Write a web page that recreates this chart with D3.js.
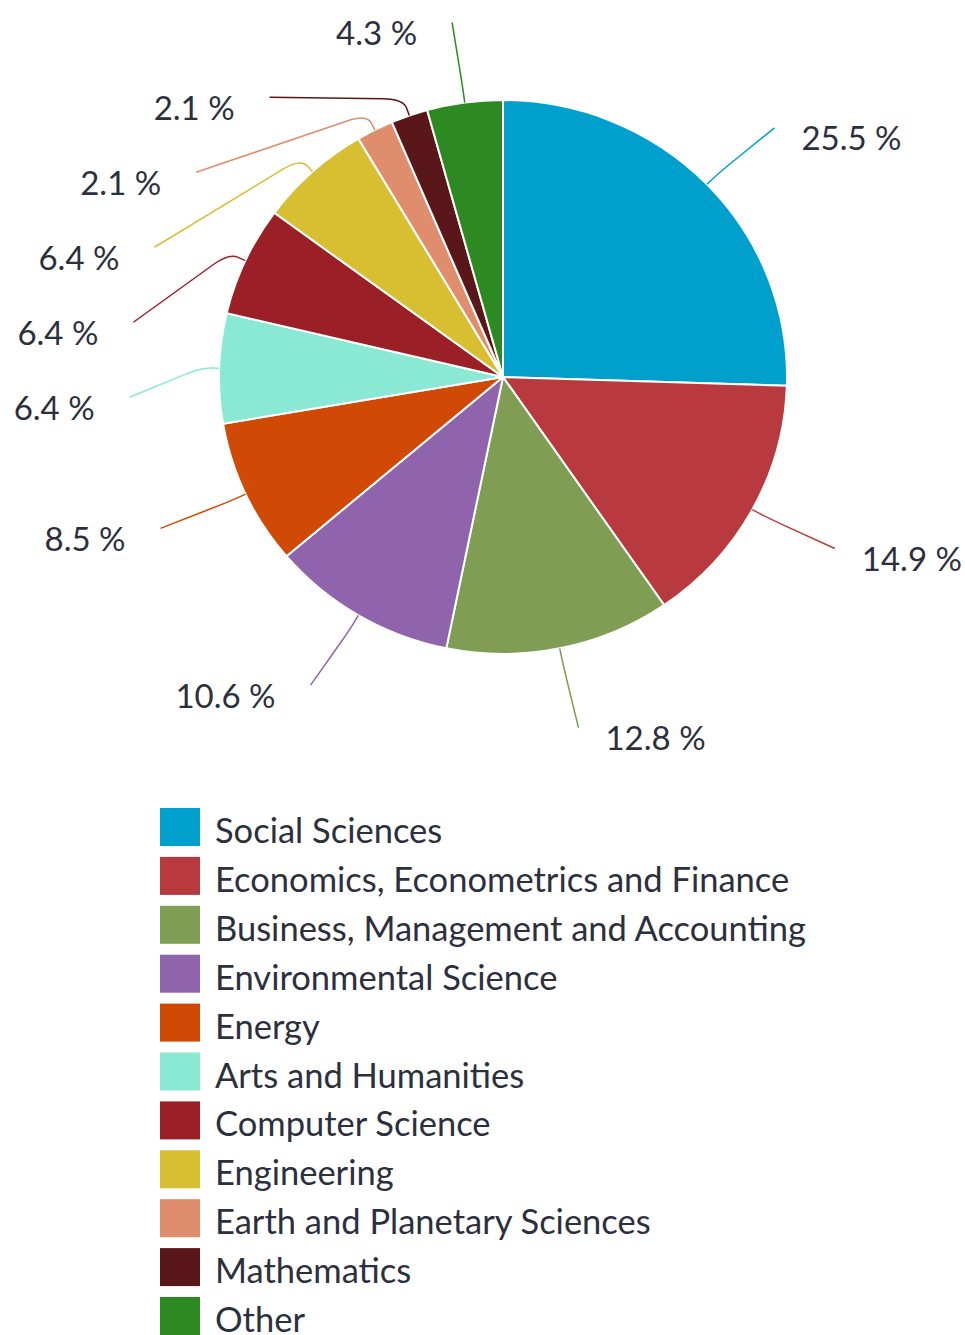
<!DOCTYPE html>
<html><head><meta charset="utf-8">
<script src="https://cdn.jsdelivr.net/npm/d3@7"></script>
<style>body{margin:0;background:#fff}svg{display:block}</style>
</head><body><svg id="c" width="965" height="1335"></svg>
<script>
const categories = ["Social Sciences","Economics, Econometrics and Finance","Business, Management and Accounting","Environmental Science","Energy","Arts and Humanities","Computer Science","Engineering","Earth and Planetary Sciences","Mathematics","Other"];
const values = [25.5,14.9,12.8,10.6,8.5,6.4,6.4,6.4,2.1,2.1,4.3];
const colors = ["#00a0cd","#b83a3f","#7f9e53","#9063ad","#d04a05","#89e9d3","#9b1f27","#d8bf32","#e08d6d","#5a1719","#2d8a22"];
const pctLabels = values.map(v => v.toFixed(1) + " %");

const svg = d3.select("#c");
const cx = 503, cy = 377, R = 284, sy = 0.975;
const font = "Lato, 'Open Sans', sans-serif";
const textColor = "#2c303c";

const pie = d3.pie().sort(null).value(d => d);
const arcs = pie(values);
const arc = d3.arc().innerRadius(0).outerRadius(R);

svg.append("g").attr("transform", `translate(${cx},${cy}) scale(1,${sy})`)
  .selectAll("path").data(arcs).join("path")
  .attr("d", arc).attr("fill", (d,i) => colors[i])
  .attr("stroke", "#fff").attr("stroke-width", 2).attr("stroke-linejoin","round");

// label layout
const LRx = 378, LRy = 358, gap = 75, minY = 20;
const items = arcs.map((d,i) => {
  const m = (d.startAngle + d.endAngle) / 2;
  return {i, m, s: Math.sin(m), c: Math.cos(m),
    x: cx + LRx*Math.sin(m), y: cy - LRy*Math.cos(m)};
});
function spread(list, dir) {
  let prev = -Infinity;
  list.forEach(it => {
    let ny = Math.max(it.y, prev + gap, minY);
    if (ny !== it.y) {
      const t = Math.min(1, Math.abs(ny - cy) / LRy);
      const adjusted = ny > it.y + 0.5 && prev > -Infinity;
      if (adjusted) it.x = cx + dir * (LRx - 4) * Math.sqrt(1 - t*t);
      else it.x = it.x + 8 * dir * -1;
      it.y = ny;
    }
    prev = it.y;
  });
}
const left = items.filter(d => d.s < 0).sort((a,b) => a.y - b.y);
const right = items.filter(d => d.s >= 0).sort((a,b) => a.y - b.y);
spread(left, -1); spread(right, 1);

const lg = svg.append("g");
items.forEach(it => {
  const A = [cx + R*it.s, cy - R*sy*it.c];
  const B = [cx + 302*it.s, cy - 302*sy*it.c];
  const C = [it.x, it.y];
  const u1 = [B[0]-A[0], B[1]-A[1]], l1 = Math.hypot(...u1);
  const u2 = [C[0]-B[0], C[1]-B[1]], l2 = Math.hypot(...u2);
  const k = Math.min(10, l1*0.6);
  const p = d3.path();
  p.moveTo(A[0], A[1]);
  p.lineTo(B[0]-u1[0]/l1*k, B[1]-u1[1]/l1*k);
  p.quadraticCurveTo(B[0], B[1], B[0]+u2[0]/l2*k*2, B[1]+u2[1]/l2*k*2);
  p.lineTo(C[0], C[1]);
  lg.append("path").attr("d", p.toString()).attr("fill","none")
    .attr("stroke", colors[it.i]).attr("stroke-width", 1.5);
  const isRight = it.s >= 0;
  lg.append("text")
    .attr("x", isRight ? C[0] + 27 : C[0] - 35)
    .attr("y", C[1] + 11)
    .attr("dy", "0.35em")
    .attr("text-anchor", isRight ? "start" : "end")
    .attr("font-family", font).attr("font-size", 33)
    .attr("fill", textColor)
    .text(pctLabels[it.i]);
});

// legend
const legY0 = 808, legStep = 48.9;
const leg = svg.append("g").selectAll("g").data(categories).join("g")
  .attr("transform", (d,i) => `translate(160,${legY0 + i*legStep})`);
leg.append("rect").attr("width", 40).attr("height", 38).attr("fill", (d,i) => colors[i]);
leg.append("text").attr("x", 55).attr("y", 35)
  .attr("font-family", font).attr("font-size", 34.5).attr("fill", textColor)
  .text(d => d);
</script></body></html>
